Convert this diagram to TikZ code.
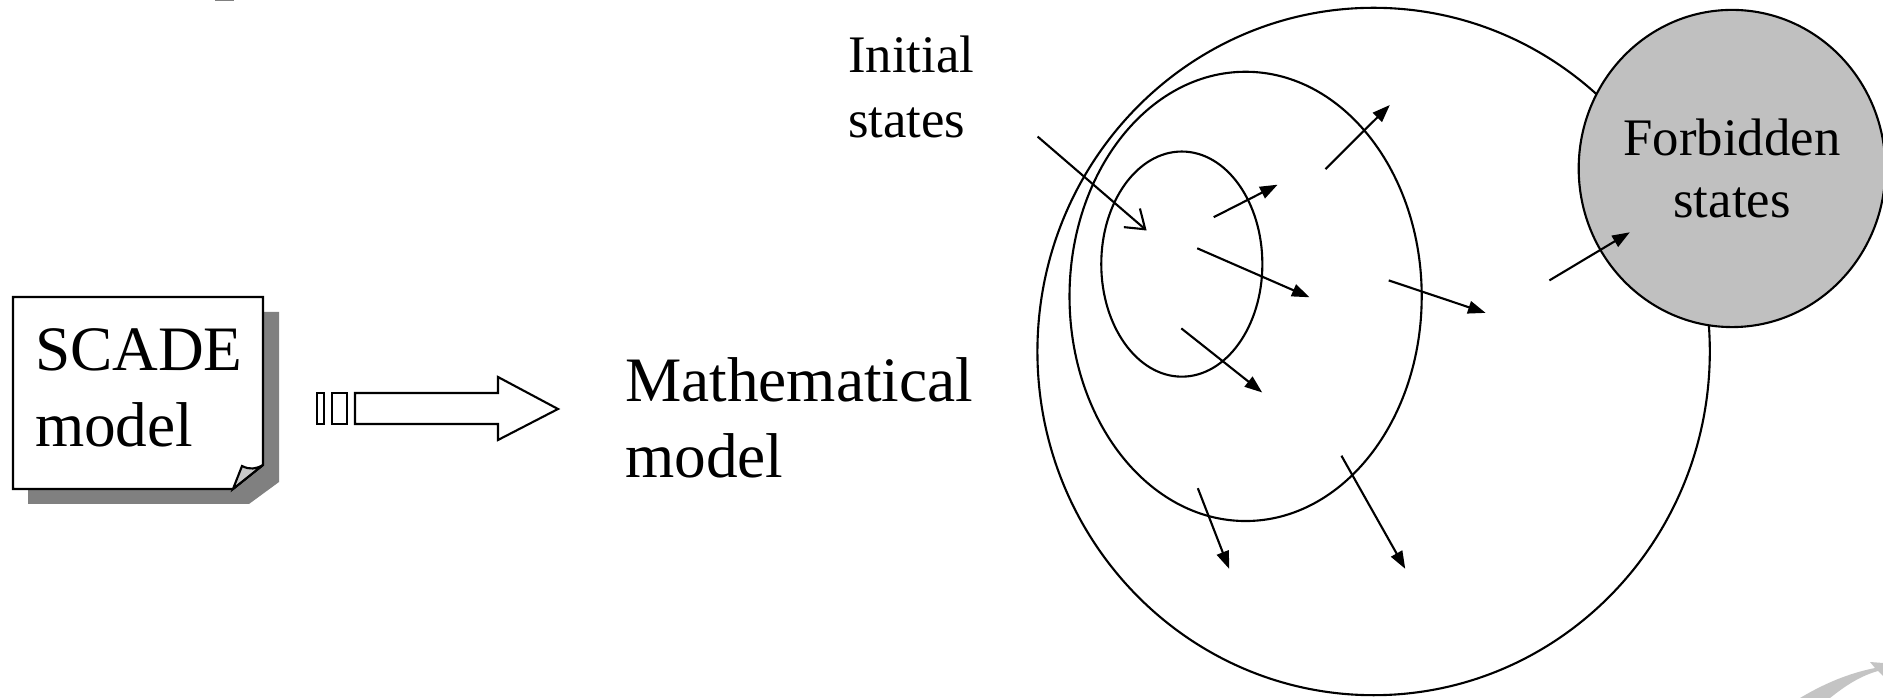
\documentclass[tikz,border=0pt]{standalone}
\usepackage{fontspec}
\setmainfont{Liberation Serif}
\usetikzlibrary{arrows.meta,positioning,shapes.geometric}

\definecolor{shadowgray}{HTML}{808080}
\definecolor{foldgray}{HTML}{C8C8C8}
\definecolor{forbidgray}{HTML}{C0C0C0}
\definecolor{swooshgray}{HTML}{C4C4C4}

\begin{document}
\begin{tikzpicture}[
  x=0.01cm, y=-0.01cm,
  line width=0.6pt,
  >={Triangle[length=5pt,width=3.6pt]},
  big/.style={font=\fontsize{18}{21.6}\selectfont, align=left, inner sep=0pt},
  small/.style={font=\fontsize{15}{18.5}\selectfont, align=left, inner sep=0pt},
  region/.style={draw, ellipse, inner sep=0pt},
  move/.style={->},
  entry/.style={-{Straight Barb[length=5pt,width=7pt]}}
]
\useasboundingbox (0,0) rectangle (1883,698);

% SCADE sheet with shadow and curled corner
\fill[shadowgray] (215,0) rectangle (234,1.5);
\fill[shadowgray] (28,312) -- (279,312) -- (279,482) -- (249,504) -- (28,504) -- cycle;
\draw[fill=white] (13,297) -- (263,297) -- (263,465) -- (233,489) -- (13,489) -- cycle;
\draw[fill=foldgray] (233,489) -- (242,466) .. controls (250,470) and (256,469) .. (263,465) -- cycle;
\node[big, anchor=west] (scade) at (34,388) {SCADE\\model};

% striped block arrow
\draw[fill=white] (317,393) rectangle (324,424);
\draw[fill=white] (332,393) rectangle (347,424);
\draw[fill=white] (355,393) -- (498,393) -- (498,377) -- (558,409) -- (498,440) -- (498,424) -- (355,424) -- cycle;
\coordinate (tip) at (558,409);
\node[big, right=0.66cm of tip, yshift=-0.09cm] (math) {Mathematical\\model};

% state space
\node[region, minimum width=6.72cm, minimum height=6.87cm] (reach) at (1373.6,351.5) {};
\node[region, minimum width=3.52cm, minimum height=4.49cm] (stable) at (1245.6,296.4) {};
\node[region, minimum width=1.61cm, minimum height=2.25cm] (init) at (1181.8,264.1) {};
\node[region, fill=forbidgray, minimum width=2.99cm, minimum height=3.17cm,
  font=\fontsize{15}{17.6}\selectfont, align=center] (forbid) at (1732,168.5) {Forbidden\\states};

\node[small, anchor=west] (initlbl) at (847,87) {Initial\\states};
\coordinate (entrystart) at (1037.6,136.6);
\coordinate (entryend) at (1146.6,230.5);
\draw[entry] (entrystart) -- (entryend);

% transitions
\foreach \sx/\sy/\ex/\ey [count=\i] in {1213.7/217.2/1277.6/184.7, 1325.4/169.1/1389.8/105,
    1197.2/248.3/1309.5/297.3, 1181.3/328.4/1262.2/392.5, 1388.7/280.4/1485.6/312.9,
    1549.4/280.4/1629.8/232.3, 1197.8/488.2/1229.1/568.8, 1341.4/455.7/1405.2/568.8} {
  \coordinate (from\i) at (\sx,\sy);
  \coordinate (to\i) at (\ex,\ey);
  \draw[move] (from\i) -- (to\i);
}

% corner swoosh
\fill[swooshgray] (1800,698) .. controls (1830,680) and (1855,672) .. (1875,668)
  -- (1870,662) -- (1883,663) -- (1883,676) -- (1878,671)
  .. controls (1860,676) and (1845,686) .. (1830,698) -- cycle;

\end{tikzpicture}
\end{document}
